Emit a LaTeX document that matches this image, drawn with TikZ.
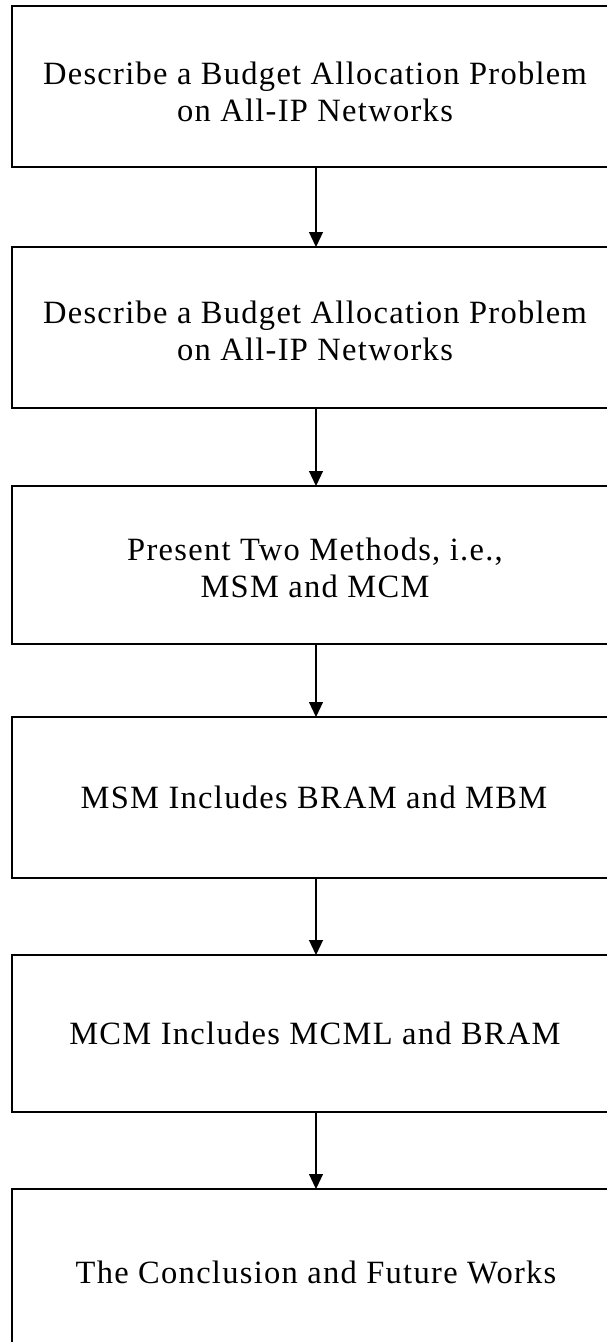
\documentclass[tikz,border=0pt]{standalone}
\usepackage{fontspec}
\setmainfont{Liberation Serif}[LetterSpace=4]
\usetikzlibrary{arrows.meta}
\tikzset{
  box/.style={draw=black, line width=1.5pt, minimum width=608pt, inner sep=0pt, outer sep=0pt},
  txt/.style={inner sep=0pt, anchor=base, font=\fontsize{32.5}{37}\selectfont},
  arr/.style={line width=1.2pt, -{Triangle[length=15pt,width=14pt]}}
}
\begin{document}
\begin{tikzpicture}[x=1pt,y=-1pt]
\useasboundingbox (0,0) rectangle (607,1342);
\begin{scope}
\clip (0,0) rectangle (607,1342);
\node[box, minimum height=161pt] (b1) at (316,86.5) {};
\node[box, minimum height=161pt] (b2) at (316,327.5) {};
\node[box, minimum height=158pt] (b3) at (316,565) {};
\node[box, minimum height=161pt] (b4) at (316,797.5) {};
\node[box, minimum height=157pt] (b5) at (316,1033.5) {};
\node[box, minimum height=162pt] (b6) at (316,1270) {};
\end{scope}
\node[txt] (t1a) at (315,84) {Describe a Budget Allocation Problem};
\node[txt] (t1b) at (315,121) {on All-IP Networks};
\node[txt] (t2a) at (315,323) {Describe a Budget Allocation Problem};
\node[txt] (t2b) at (315,360) {on All-IP Networks};
\node[txt] (t3a) at (315,560) {Present Two Methods, i.e.,};
\node[txt] (t3b) at (315,597) {MSM and MCM};
\node[txt] (t4) at (314,808) {MSM Includes BRAM and MBM};
\node[txt] (t5) at (315,1044) {MCM Includes MCML and BRAM};
\node[txt] (t6) at (316,1283) {The Conclusion and Future Works};
\draw[arr] (b1.south) -- (b2.north);
\draw[arr] (b2.south) -- (b3.north);
\draw[arr] (b3.south) -- (b4.north);
\draw[arr] (b4.south) -- (b5.north);
\draw[arr] (b5.south) -- (b6.north);
\end{tikzpicture}
\end{document}
